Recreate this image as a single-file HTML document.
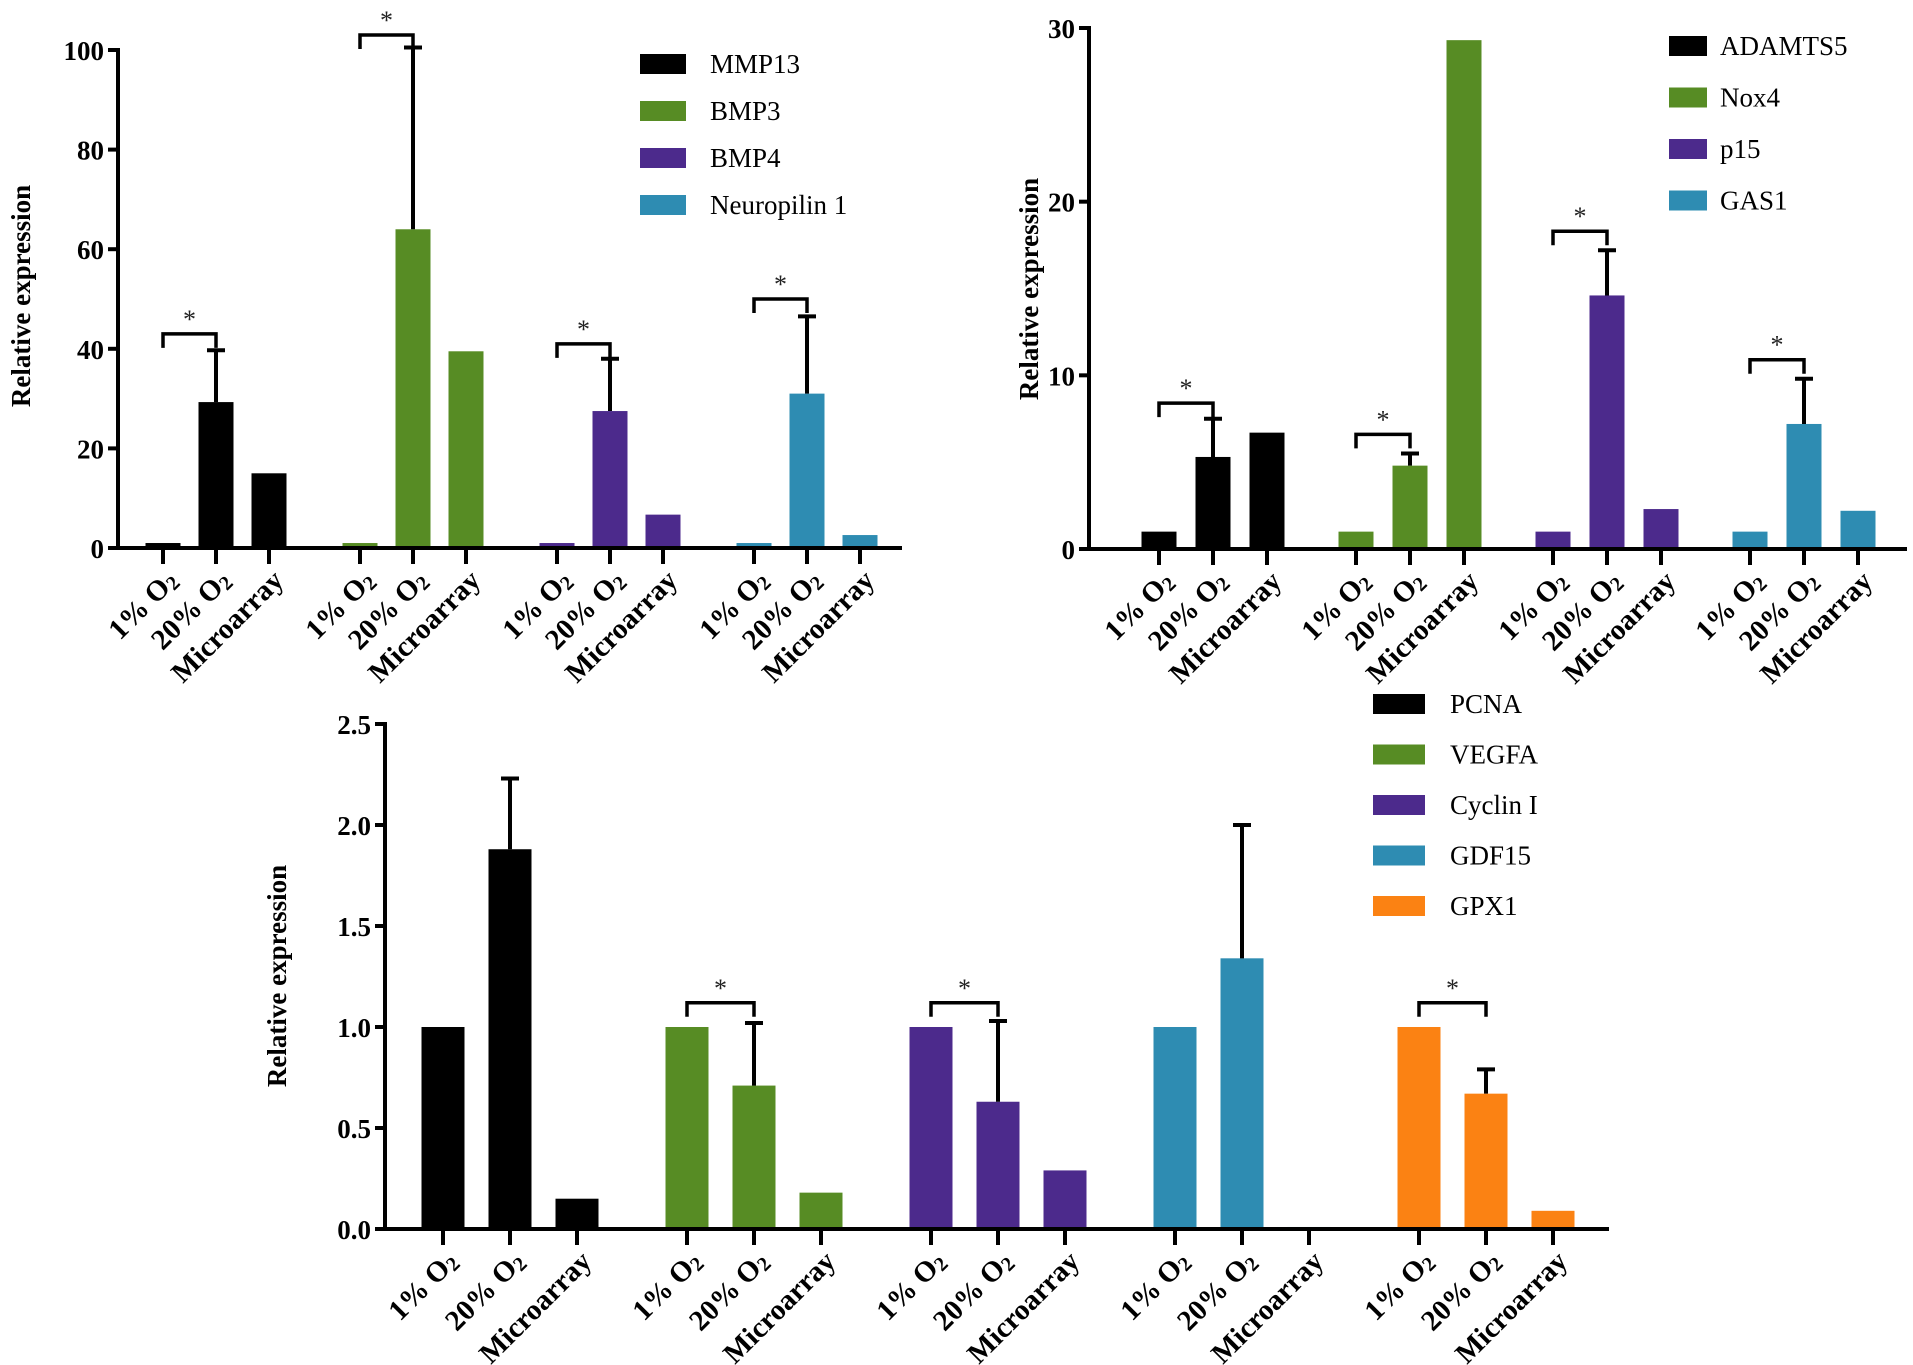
<!DOCTYPE html>
<html><head><meta charset="utf-8"><style>
html,body{margin:0;padding:0;background:#fff}
svg{display:block}
text{font-family:"Liberation Serif",serif}
</style></head><body>
<svg id="fig" width="1913" height="1365" viewBox="0 0 1913 1365" xmlns="http://www.w3.org/2000/svg"></svg>
<script>
// ---- data ----
const condLabels = ["1% O2","20% O2","Microarray"];
const c1Genes = ["MMP13","BMP3","BMP4","Neuropilin 1"];
const c1Mean = [[1,29.3,15],[1,64,39.5],[1,27.5,6.7],[1,31,2.6]];
const c1ErrTop = [39.7,100.5,38,46.5];
const c1Sig = [43,103,41,50];
const c1Ticks = [0,20,40,60,80,100];

const c2Genes = ["ADAMTS5","Nox4","p15","GAS1"];
const c2Mean = [[1,5.3,6.7],[1,4.8,29.3],[1,14.6,2.3],[1,7.2,2.2]];
const c2ErrTop = [7.5,5.5,17.2,9.8];
const c2Sig = [8.4,6.6,18.3,10.9];
const c2Ticks = [0,10,20,30];

const c3Genes = ["PCNA","VEGFA","Cyclin I","GDF15","GPX1"];
const c3Mean = [[1,1.88,0.15],[1,0.71,0.18],[1,0.63,0.29],[1,1.34,0.01],[1,0.67,0.09]];
const c3ErrTop = [2.23,1.02,1.03,2.0,0.79];
const c3Sig = [null,1.12,1.12,null,1.12];
const c3Ticks = ["0.0","0.5","1.0","1.5","2.0","2.5"];

const colors = ["#000000","#578c24","#4c2a8c","#2e8cb2","#fb8213"];
const NS="http://www.w3.org/2000/svg";
const svg=document.getElementById('fig');
function mk(tag,attrs,parent){const e=document.createElementNS(NS,tag);for(const k in attrs)e.setAttribute(k,attrs[k]);(parent||svg).appendChild(e);return e;}

function drawChart(cfg, genes, means, errTop, sig, ticks){
  const g=mk('g',{});
  
  
  const yScale=v=>cfg.y0-(v/cfg.ymax)*(cfg.y0-cfg.ytop);
  const xPos=(gi,ci)=>cfg.x0+gi*cfg.gstep+ci*cfg.cstep;
  genes.forEach((gene,gi)=>{
    means[gi].forEach((v,ci)=>{
      const cx=xPos(gi,ci);
      const r=mk('rect',{x:cx-cfg.bw/2,y:yScale(v),width:cfg.bw,height:cfg.y0-yScale(v),fill:colors[gi]},g);
      
      
    });
    const cx=xPos(gi,1);
    const eb=mk('path',{d:`M${cx},${yScale(means[gi][1])} V${yScale(errTop[gi])} M${cx-9},${yScale(errTop[gi])} H${cx+9}`,stroke:'#000','stroke-width':4,fill:'none'},g);
    
    
    if(sig[gi]!=null){
      const a=xPos(gi,0), b=xPos(gi,1), y=yScale(sig[gi]);
      const br=mk('path',{d:`M${a},${y+14} V${y} H${b} V${y+14}`,stroke:'#000','stroke-width':3.5,fill:'none'},g);
      
      
      const st=mk('text',{x:(a+b)/2,y:y-6,'text-anchor':'middle','font-size':26,fill:'#222'},g);
      st.textContent='*';
      
      
    }
    condLabels.forEach((lab,ci)=>{
      const cx=xPos(gi,ci);
      mk('line',{x1:cx,x2:cx,y1:cfg.y0,y2:cfg.y0+16,stroke:'#000','stroke-width':4},g);
      const t=mk('text',{transform:`translate(${cx+16},${cfg.y0+34}) rotate(-45)`,'text-anchor':'end','font-size':cfg.xfs,'font-weight':'bold'},g);
      
      
      if(lab.endsWith('O2')){
        const s1=mk('tspan',{},t);s1.textContent=lab.slice(0,-1);
        const s2=mk('tspan',{'font-size':cfg.xfs*0.7,dy:3},t);s2.textContent='2';
      } else t.textContent=lab;
    });
  });
  const ax=mk('path',{d:`M${cfg.yaxisX},${cfg.ytop-2} V${cfg.y0} H${cfg.xend}`,stroke:'#000','stroke-width':4,fill:'none'},g);
  
  
  ticks.forEach(tv=>{
    const y=yScale(parseFloat(tv));
    mk('line',{x1:cfg.yaxisX-10,x2:cfg.yaxisX,y1:y,y2:y,stroke:'#000','stroke-width':4},g);
    const t=mk('text',{x:cfg.yaxisX-14,y:y+10,'text-anchor':'end','font-size':cfg.fs,'font-weight':'bold'},g);
    t.textContent=tv;
    
    
  });
  const yt=mk('text',{transform:`translate(${cfg.ylabX},${cfg.ylabY}) rotate(-90)`,'text-anchor':'middle','font-size':cfg.fs,'font-weight':'bold'},g);
  yt.textContent='Relative expression';
  
  
  genes.forEach((gene,gi)=>{
    const y=cfg.legY+gi*cfg.legStep;
    const r=mk('rect',{x:cfg.legX,y:y-10,width:cfg.legW,height:20,fill:colors[gi]},g);
    
    
    const t=mk('text',{x:cfg.legTX,y:y+9,'font-size':cfg.legFs},g);
    t.textContent=gene;
    
    
  });
}

drawChart({name:'chart-top-left',x0:163,gstep:197,cstep:53,bw:35,y0:548,ytop:50,ymax:100,yaxisX:118,xend:902,fs:27,xfs:29,ylabX:30,ylabY:296,legX:640,legW:46,legTX:710,legY:64,legStep:47,legFs:27},
  c1Genes,c1Mean,c1ErrTop,c1Sig,c1Ticks.map(String));
drawChart({name:'chart-top-right',x0:1159,gstep:197,cstep:54,bw:35,y0:549,ytop:28,ymax:30,yaxisX:1089,xend:1907,fs:27,xfs:29,ylabX:1038,ylabY:289,legX:1669,legW:38,legTX:1720,legY:46,legStep:51.5,legFs:27},
  c2Genes,c2Mean,c2ErrTop,c2Sig,c2Ticks.map(String));
drawChart({name:'chart-bottom',x0:443,gstep:244,cstep:67,bw:43,y0:1229,ytop:724,ymax:2.5,yaxisX:385,xend:1609,fs:27,xfs:29,ylabX:286,ylabY:976,legX:1373,legW:52,legTX:1450,legY:704,legStep:50.5,legFs:27},
  c3Genes,c3Mean,c3ErrTop,c3Sig,c3Ticks);
</script>
</body></html>
